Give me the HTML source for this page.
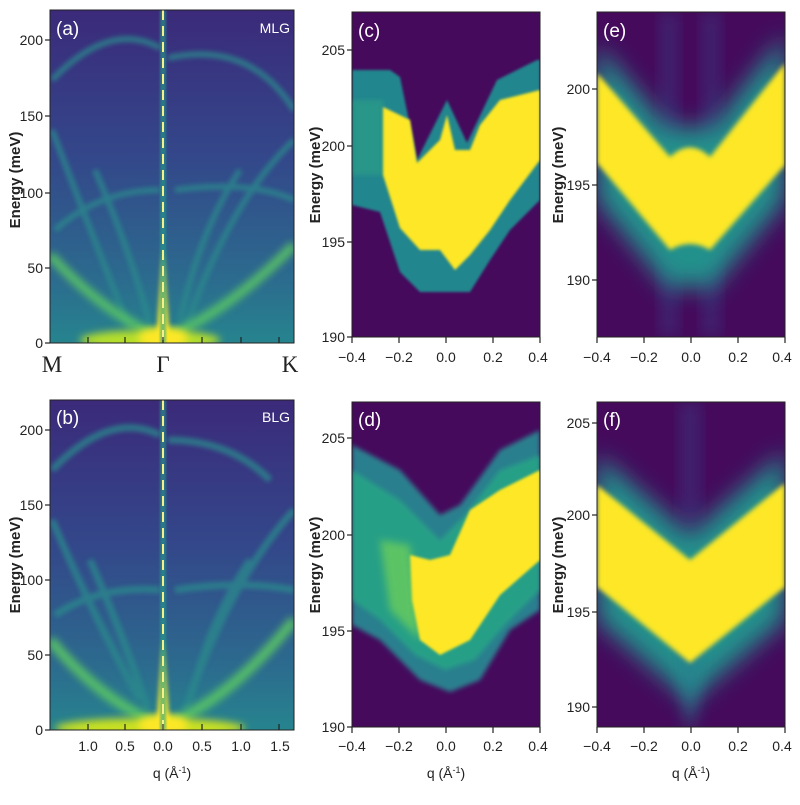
<!DOCTYPE html>
<html><head><meta charset="utf-8"><style>
body{margin:0;background:#fff;}
svg text{font-family:"Liberation Sans",sans-serif;}
</style></head><body>
<svg width="800" height="800" viewBox="0 0 800 800" xmlns="http://www.w3.org/2000/svg">
<defs>
<filter id="b1" x="-20%" y="-20%" width="140%" height="140%"><feGaussianBlur stdDeviation="1.2"/></filter>
<filter id="b2" x="-20%" y="-20%" width="140%" height="140%"><feGaussianBlur stdDeviation="2.5"/></filter>
<filter id="b4" x="-30%" y="-30%" width="160%" height="160%"><feGaussianBlur stdDeviation="4"/></filter>
<filter id="b8" x="-30%" y="-30%" width="160%" height="160%"><feGaussianBlur stdDeviation="8"/></filter>
<filter id="b12" x="-40%" y="-40%" width="180%" height="180%"><feGaussianBlur stdDeviation="12"/></filter>
<linearGradient id="bgA" x1="0" y1="0" x2="0" y2="1">
<stop offset="0" stop-color="#3b2a7a"/><stop offset="0.45" stop-color="#33488a"/><stop offset="0.8" stop-color="#2c6a8e"/><stop offset="1" stop-color="#26848e"/></linearGradient>
<clipPath id="ca"><rect x="50" y="10" width="244" height="333"/></clipPath>
<clipPath id="cb"><rect x="50" y="400" width="244" height="330"/></clipPath>
<clipPath id="cc"><rect x="352" y="12" width="188" height="325"/></clipPath>
<clipPath id="cd"><rect x="352" y="402" width="188" height="325"/></clipPath>
<clipPath id="ce"><rect x="597" y="12" width="188" height="325"/></clipPath>
<clipPath id="cf"><rect x="597" y="402" width="188" height="325"/></clipPath>
</defs>

<!-- Panel a -->
<g clip-path="url(#ca)">
<rect x="50" y="10" width="244" height="333" fill="url(#bgA)"/>
<g fill="none" stroke="#2a8a8c" stroke-width="6" filter="url(#b2)" opacity="0.75">
<path d="M52,80 Q110,20 160,48"/><path d="M168,58 Q250,40 294,110"/>
<path d="M52,130 Q90,230 130,330"/><path d="M55,230 Q100,190 160,190"/>
<path d="M185,330 Q230,200 294,140"/><path d="M175,190 Q250,180 294,200"/>
<path d="M95,170 Q130,250 150,325"/><path d="M180,320 Q200,230 240,170"/>
</g>
<g fill="none" stroke="#5cc863" stroke-width="9" filter="url(#b4)" opacity="0.9">
<path d="M50,255 Q100,310 160,338"/><path d="M165,338 Q230,310 294,245"/>
</g>
<ellipse cx="150" cy="340" rx="70" ry="10" fill="#b5de2b" filter="url(#b4)"/>
<ellipse cx="163" cy="338" rx="25" ry="10" fill="#fde725" filter="url(#b4)"/>
<path d="M156,343 L163,250 L170,343Z" fill="#fde725" filter="url(#b2)"/>
<rect x="160" y="10" width="6" height="333" fill="#25a08a" opacity="0.6" filter="url(#b1)"/>
<line x1="163" y1="10" x2="163" y2="343" stroke="#f4f08a" stroke-width="2" stroke-dasharray="10,6"/>
</g>
<rect x="50" y="10" width="244" height="333" fill="none" stroke="#222"/>
<g stroke="#222" stroke-width="1.2">
<line x1="88" y1="343" x2="88" y2="337"/><line x1="125" y1="343" x2="125" y2="337"/><line x1="163" y1="343" x2="163" y2="337"/><line x1="202" y1="343" x2="202" y2="337"/><line x1="241" y1="343" x2="241" y2="337"/><line x1="279" y1="343" x2="279" y2="337"/>
<line x1="45" y1="343" x2="50" y2="343"/><line x1="45" y1="268" x2="50" y2="268"/><line x1="45" y1="193" x2="50" y2="193"/><line x1="45" y1="116" x2="50" y2="116"/><line x1="45" y1="40" x2="50" y2="40"/>
</g>
<g font-size="14" fill="#222" text-anchor="end">
<text x="43" y="348">0</text><text x="43" y="273">50</text><text x="43" y="198">100</text><text x="43" y="121">150</text><text x="43" y="45">200</text>
</g>
<text x="56" y="35" font-size="19" fill="#fff">(a)</text>
<text x="290" y="33" font-size="14" fill="#fff" text-anchor="end">MLG</text>
<g font-size="23" fill="#222" text-anchor="middle">
<text x="52" y="372" style="font-family:'Liberation Serif',serif">M</text><text x="163" y="372" style="font-family:'Liberation Serif',serif">Γ</text><text x="290" y="372" style="font-family:'Liberation Serif',serif">K</text></g>
<text transform="translate(20,180) rotate(-90)" font-size="15" font-weight="bold" fill="#222" text-anchor="middle">Energy (meV)</text>

<!-- Panel b -->
<g clip-path="url(#cb)">
<rect x="50" y="400" width="244" height="330" fill="url(#bgA)"/>
<g fill="none" stroke="#2a8a8c" stroke-width="7" filter="url(#b2)" opacity="0.75">
<path d="M52,470 Q110,410 160,435"/><path d="M168,440 Q230,440 270,480"/>
<path d="M52,520 Q95,620 140,700"/><path d="M55,615 Q100,585 160,590"/>
<path d="M185,710 Q230,580 294,510"/><path d="M175,590 Q240,580 294,590"/>
<path d="M90,560 Q125,640 148,710"/><path d="M190,700 Q210,620 250,560"/>
</g>
<g fill="none" stroke="#5cc863" stroke-width="10" filter="url(#b4)" opacity="0.9">
<path d="M50,640 Q100,700 160,725"/><path d="M165,725 Q230,700 294,620"/>
</g>
<ellipse cx="150" cy="728" rx="95" ry="10" fill="#c8e020" filter="url(#b4)"/>
<ellipse cx="163" cy="725" rx="25" ry="10" fill="#fde725" filter="url(#b4)"/>
<path d="M156,730 L163,640 L170,730Z" fill="#fde725" filter="url(#b2)"/>
<rect x="160" y="400" width="6" height="330" fill="#25a08a" opacity="0.6" filter="url(#b1)"/>
<line x1="163" y1="400" x2="163" y2="730" stroke="#f4f08a" stroke-width="2" stroke-dasharray="10,6"/>
</g>
<rect x="50" y="400" width="244" height="330" fill="none" stroke="#222"/>
<g stroke="#222" stroke-width="1.2">
<line x1="45" y1="730" x2="50" y2="730"/><line x1="45" y1="655" x2="50" y2="655"/><line x1="45" y1="580" x2="50" y2="580"/><line x1="45" y1="505" x2="50" y2="505"/><line x1="45" y1="430" x2="50" y2="430"/>
<line x1="88" y1="730" x2="88" y2="724"/><line x1="125" y1="730" x2="125" y2="724"/><line x1="163" y1="730" x2="163" y2="724"/><line x1="202" y1="730" x2="202" y2="724"/><line x1="241" y1="730" x2="241" y2="724"/><line x1="279" y1="730" x2="279" y2="724"/>
</g>
<g font-size="14" fill="#222" text-anchor="end">
<text x="43" y="735">0</text><text x="43" y="660">50</text><text x="43" y="585">100</text><text x="43" y="510">150</text><text x="43" y="435">200</text></g>
<g font-size="14" fill="#222" text-anchor="middle">
<text x="88" y="751">1.0</text><text x="125" y="751">0.5</text><text x="163" y="751">0.0</text><text x="202" y="751">0.5</text><text x="241" y="751">1.0</text><text x="280" y="751">1.5</text></g>
<text x="172" y="778" font-size="14" fill="#222" text-anchor="middle">q (Å<tspan dy="-5" font-size="9">-1</tspan><tspan dy="5">)</tspan></text>
<text x="56" y="424" font-size="19" fill="#fff">(b)</text>
<text x="290" y="422" font-size="14" fill="#fff" text-anchor="end">BLG</text>
<text transform="translate(20,565) rotate(-90)" font-size="15" font-weight="bold" fill="#222" text-anchor="middle">Energy (meV)</text>

<!-- Panel c -->
<g clip-path="url(#cc)">
<rect x="352" y="12" width="188" height="325" fill="#450a5c"/>
<path d="M352,70 L390,70 L400,77 L417,160 L447,100 L467,143 L497,80 L537,60 L540,60 L540,200 L510,230 L490,260 L470,292 L445,292 L420,292 L400,272 L380,212 L352,205Z" fill="#24868e" filter="url(#b1)"/>
<path d="M352,100 L383,100 L383,175 L352,175Z" fill="#2a9a88" filter="url(#b2)" opacity="0.8"/>
<path d="M383,107 L410,120 L417,163 L440,140 L447,115 L455,150 L470,150 L480,125 L500,100 L520,95 L540,90 L540,160 L510,200 L490,230 L470,255 L455,270 L440,250 L420,250 L400,228 L383,175Z" fill="#fde725" filter="url(#b1)"/>
</g>
<rect x="352" y="12" width="188" height="325" fill="none" stroke="#222"/>
<g stroke="#222" stroke-width="1.2">
<line x1="347" y1="337" x2="352" y2="337"/><line x1="347" y1="242" x2="352" y2="242"/><line x1="347" y1="146" x2="352" y2="146"/><line x1="347" y1="50" x2="352" y2="50"/>
<line x1="352" y1="337" x2="352" y2="343"/><line x1="399" y1="337" x2="399" y2="343"/><line x1="446" y1="337" x2="446" y2="343"/><line x1="493" y1="337" x2="493" y2="343"/><line x1="540" y1="337" x2="540" y2="343"/></g>
<g font-size="14" fill="#222" text-anchor="end"><text x="345" y="342">190</text><text x="345" y="247">195</text><text x="345" y="151">200</text><text x="345" y="55">205</text></g>
<g font-size="14" fill="#222" text-anchor="middle"><text x="352" y="362">−0.4</text><text x="399" y="362">−0.2</text><text x="446" y="362">0.0</text><text x="493" y="362">0.2</text><text x="538" y="362">0.4</text></g>
<text x="358" y="37" font-size="19" fill="#fff">(c)</text>
<text transform="translate(320,175) rotate(-90)" font-size="15" font-weight="bold" fill="#222" text-anchor="middle">Energy (meV)</text>

<!-- Panel d -->
<g clip-path="url(#cd)">
<rect x="352" y="402" width="188" height="325" fill="#450a5c"/>
<path d="M352,445 L400,470 L440,515 L460,505 L500,450 L540,430 L540,610 L510,630 L480,680 L450,692 L420,680 L380,640 L352,625Z" fill="#2c7f8e" filter="url(#b2)"/>
<path d="M352,470 L400,500 L440,540 L465,515 L500,470 L540,455 L540,590 L505,625 L475,660 L445,670 L415,655 L380,620 L352,600Z" fill="#27a586" filter="url(#b2)" opacity="0.85"/>
<path d="M380,540 L410,545 L420,640 L390,610Z" fill="#6acd5b" filter="url(#b4)" opacity="0.8"/>
<path d="M410,555 L430,560 L450,555 L470,510 L500,490 L540,470 L540,560 L500,595 L470,640 L440,655 L420,640 L412,600Z" fill="#fde725" filter="url(#b1)"/>
</g>
<rect x="352" y="402" width="188" height="325" fill="none" stroke="#222"/>
<g stroke="#222" stroke-width="1.2">
<line x1="347" y1="727" x2="352" y2="727"/><line x1="347" y1="631" x2="352" y2="631"/><line x1="347" y1="535" x2="352" y2="535"/><line x1="347" y1="438" x2="352" y2="438"/>
<line x1="352" y1="727" x2="352" y2="733"/><line x1="399" y1="727" x2="399" y2="733"/><line x1="446" y1="727" x2="446" y2="733"/><line x1="493" y1="727" x2="493" y2="733"/><line x1="540" y1="727" x2="540" y2="733"/></g>
<g font-size="14" fill="#222" text-anchor="end"><text x="345" y="732">190</text><text x="345" y="636">195</text><text x="345" y="540">200</text><text x="345" y="443">205</text></g>
<g font-size="14" fill="#222" text-anchor="middle"><text x="352" y="751">−0.4</text><text x="399" y="751">−0.2</text><text x="446" y="751">0.0</text><text x="493" y="751">0.2</text><text x="538" y="751">0.4</text></g>
<text x="446" y="778" font-size="14" fill="#222" text-anchor="middle">q (Å<tspan dy="-5" font-size="9">-1</tspan><tspan dy="5">)</tspan></text>
<text x="358" y="426" font-size="19" fill="#fff">(d)</text>
<text transform="translate(320,565) rotate(-90)" font-size="15" font-weight="bold" fill="#222" text-anchor="middle">Energy (meV)</text>

<!-- Panel e -->
<g clip-path="url(#ce)">
<rect x="597" y="12" width="188" height="325" fill="#450a5c"/>
<rect x="660" y="12" width="18" height="325" fill="#3a3c84" filter="url(#b8)" opacity="0.5"/>
<rect x="702" y="12" width="18" height="325" fill="#3a3c84" filter="url(#b8)" opacity="0.5"/>
<path d="M597,45 L670,130 L690,125 L710,130 L785,35 L785,200 L710,290 L690,285 L670,290 L597,200Z" fill="#21918c" filter="url(#b12)"/>
<path d="M597,73 L670,157 Q690,138 710,157 L785,63 L785,165 L710,250 Q690,238 670,250 L597,163Z" fill="#fde725" filter="url(#b2)"/>
</g>
<rect x="597" y="12" width="188" height="325" fill="none" stroke="#222"/>
<g stroke="#222" stroke-width="1.2">
<line x1="592" y1="280" x2="597" y2="280"/><line x1="592" y1="185" x2="597" y2="185"/><line x1="592" y1="89" x2="597" y2="89"/>
<line x1="597" y1="337" x2="597" y2="343"/><line x1="644" y1="337" x2="644" y2="343"/><line x1="691" y1="337" x2="691" y2="343"/><line x1="738" y1="337" x2="738" y2="343"/><line x1="785" y1="337" x2="785" y2="343"/></g>
<g font-size="14" fill="#222" text-anchor="end"><text x="590" y="285">190</text><text x="590" y="190">195</text><text x="590" y="94">200</text></g>
<g font-size="14" fill="#222" text-anchor="middle"><text x="597" y="362">−0.4</text><text x="644" y="362">−0.2</text><text x="691" y="362">0.0</text><text x="738" y="362">0.2</text><text x="782" y="362">0.4</text></g>
<text x="603" y="37" font-size="19" fill="#fff">(e)</text>
<text transform="translate(563,175) rotate(-90)" font-size="15" font-weight="bold" fill="#222" text-anchor="middle">Energy (meV)</text>

<!-- Panel f -->
<g clip-path="url(#cf)">
<rect x="597" y="402" width="188" height="325" fill="#450a5c"/>
<rect x="680" y="402" width="20" height="120" fill="#3a3c84" filter="url(#b8)" opacity="0.5"/>
<path d="M597,455 L690,535 L785,452 L785,620 L690,700 L597,620Z" fill="#21918c" filter="url(#b12)"/>
<path d="M675,640 L690,735 L705,640Z" fill="#26828e" filter="url(#b8)"/>
<path d="M597,485 L690,560 L785,483 L785,587 L690,663 L597,587Z" fill="#fde725" filter="url(#b2)"/>
</g>
<rect x="597" y="402" width="188" height="325" fill="none" stroke="#222"/>
<g stroke="#222" stroke-width="1.2">
<line x1="592" y1="707" x2="597" y2="707"/><line x1="592" y1="612" x2="597" y2="612"/><line x1="592" y1="515" x2="597" y2="515"/><line x1="592" y1="423" x2="597" y2="423"/>
<line x1="597" y1="727" x2="597" y2="733"/><line x1="644" y1="727" x2="644" y2="733"/><line x1="691" y1="727" x2="691" y2="733"/><line x1="738" y1="727" x2="738" y2="733"/><line x1="785" y1="727" x2="785" y2="733"/></g>
<g font-size="14" fill="#222" text-anchor="end"><text x="590" y="712">190</text><text x="590" y="617">195</text><text x="590" y="520">200</text><text x="590" y="428">205</text></g>
<g font-size="14" fill="#222" text-anchor="middle"><text x="597" y="751">−0.4</text><text x="644" y="751">−0.2</text><text x="691" y="751">0.0</text><text x="738" y="751">0.2</text><text x="782" y="751">0.4</text></g>
<text x="691" y="778" font-size="14" fill="#222" text-anchor="middle">q (Å<tspan dy="-5" font-size="9">-1</tspan><tspan dy="5">)</tspan></text>
<text x="603" y="426" font-size="19" fill="#fff">(f)</text>
<text transform="translate(563,565) rotate(-90)" font-size="15" font-weight="bold" fill="#222" text-anchor="middle">Energy (meV)</text>
</svg>
</body></html>
